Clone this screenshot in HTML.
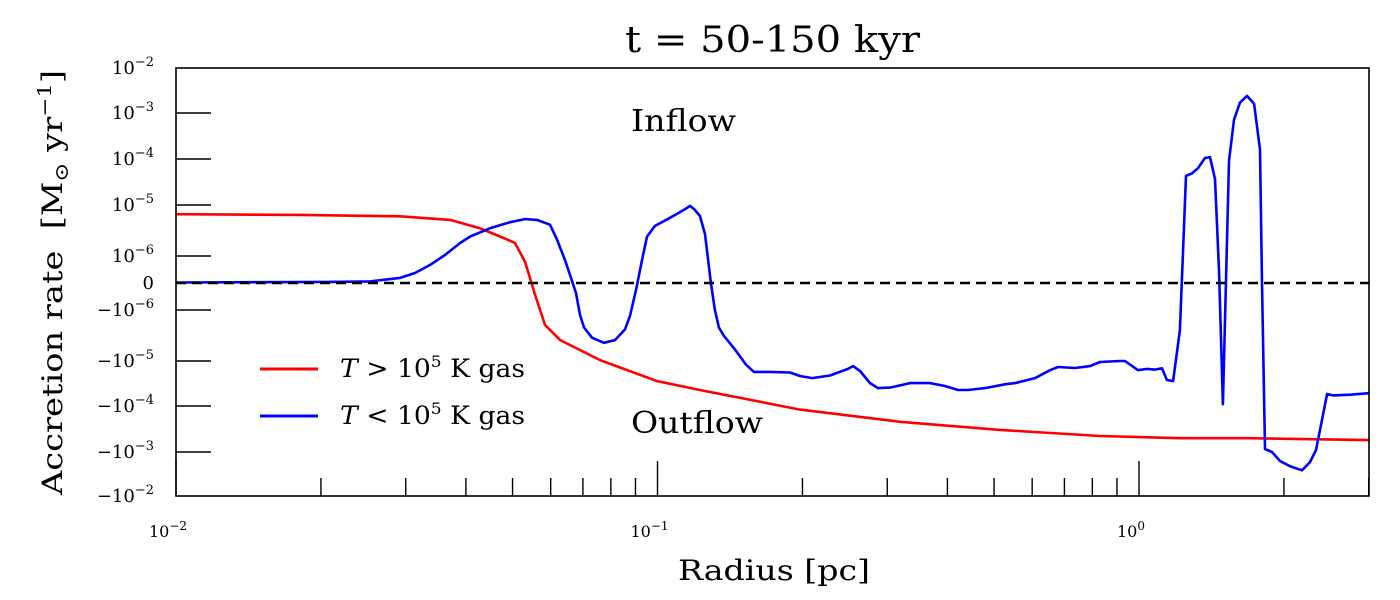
<!DOCTYPE html>
<html><head><meta charset="utf-8"><style>
body{margin:0;background:#fff}
svg{display:block}
text{font-family:"DejaVu Serif","Liberation Serif",serif;fill:#000}
</style></head><body>
<svg id="chart" width="1400" height="600" viewBox="0 0 1400 600" xmlns="http://www.w3.org/2000/svg">
<text x="625" y="52" font-size="36" textLength="295" lengthAdjust="spacingAndGlyphs">t = 50-150 kyr</text>
<g id="plot"></g>
<text x="678" y="580" font-size="28" textLength="192" lengthAdjust="spacingAndGlyphs">Radius [pc]</text>
<text transform="translate(62,495) rotate(-90)" font-size="28" textLength="425" lengthAdjust="spacingAndGlyphs" xml:space="preserve">Accretion rate  [M<tspan font-size="19" dy="6">⊙</tspan><tspan dy="-6"> yr</tspan><tspan font-size="19" dy="-11">−1</tspan><tspan dy="11">]</tspan></text>
<text x="631" y="131" font-size="30" textLength="105" lengthAdjust="spacingAndGlyphs">Inflow</text>
<text x="631" y="433" font-size="30" textLength="132" lengthAdjust="spacingAndGlyphs">Outflow</text>
<line x1="260" y1="369" x2="318" y2="369" stroke="#ff0000" stroke-width="3"/>
<text x="340" y="377" font-size="25" textLength="185" lengthAdjust="spacingAndGlyphs"><tspan font-style="italic">T</tspan> &gt; 10<tspan font-size="16" dy="-10">5</tspan><tspan dy="10"> K gas</tspan></text>
<line x1="260" y1="416" x2="318" y2="416" stroke="#0000ff" stroke-width="3"/>
<text x="340" y="424" font-size="25" textLength="185" lengthAdjust="spacingAndGlyphs"><tspan font-style="italic">T</tspan> &lt; 10<tspan font-size="16" dy="-10">5</tspan><tspan dy="10"> K gas</tspan></text>
</svg>
<script>
const radiusHot=[0.01,0.0181,0.0292,0.0371,0.0428,0.0482,0.0506,0.0531,0.0557,0.0584,0.0628,0.0760,0.0998,0.1225,0.1977,0.3189,0.5144,0.8299,1.216,1.700,3.0];
const rateHot=[6.6e-6,6.4e-6,6.0e-6,5.1e-6,3.5e-6,2.2e-6,1.8e-6,0.78e-6,-0.44e-6,-1.96e-6,-3.9e-6,-9.6e-6,-2.8e-5,-4.4e-5,-1.2e-4,-2.2e-4,-3.3e-4,-4.5e-4,-5e-4,-5e-4,-5.5e-4];
const radiusCold=[0.01,0.02088,0.02529,0.02919,0.03136,0.03370,0.03621,0.03890,0.04080,0.04487,0.04939,0.05305,0.05618,0.05980,0.06184,0.06425,0.06580,0.06772,0.06902,0.07037,0.07311,0.07742,0.08159,0.08559,0.08767,0.09021,0.09284,0.09509,0.0988,0.1062,0.1141,0.1168,0.1191,0.1225,0.1255,0.1291,0.1316,0.1341,0.1374,0.1449,0.1527,0.1586,0.1712,0.1884,0.1977,0.2094,0.2282,0.2487,0.2547,0.2634,0.2763,0.2870,0.3041,0.3345,0.3680,0.3955,0.4208,0.4415,0.4788,0.5268,0.5527,0.6081,0.6535,0.6789,0.7365,0.7913,0.8299,0.9132,0.9352,0.9952,1.039,1.079,1.116,1.143,1.177,1.216,1.252,1.289,1.326,1.371,1.404,1.438,1.466,1.494,1.538,1.575,1.621,1.676,1.734,1.784,1.801,1.827,1.889,1.963,2.059,2.180,2.265,2.331,2.458,2.529,2.743,3.004];
const rateCold=[0.02e-6,0.04e-6,0.06e-6,0.19e-6,0.37e-6,0.67e-6,1.05e-6,1.8e-6,2.4e-6,3.5e-6,4.6e-6,5.3e-6,5.1e-6,4.1e-6,2.1e-6,0.85e-6,0.3e-6,-0.37e-6,-1.25e-6,-2.2e-6,-3.5e-6,-4.4e-6,-3.9e-6,-2.4e-6,-1.3e-6,-0.26e-6,0.85e-6,2.4e-6,3.9e-6,5.6e-6,8.3e-6,9.6e-6,8.3e-6,6.1e-6,2.7e-6,0,-1e-6,-2.2e-6,-3.2e-6,-6e-6,-1.2e-5,-1.75e-5,-1.75e-5,-1.8e-5,-2.15e-5,-2.4e-5,-2.1e-5,-1.5e-5,-1.3e-5,-1.67e-5,-3.1e-5,-4e-5,-3.9e-5,-3.1e-5,-3.1e-5,-3.6e-5,-4.4e-5,-4.4e-5,-4e-5,-3.3e-5,-3.1e-5,-2.4e-5,-1.6e-5,-1.36e-5,-1.43e-5,-1.3e-5,-1.05e-5,-1e-5,-1e-5,-1.6e-5,-1.5e-5,-1.55e-5,-1.45e-5,-2.65e-5,-2.8e-5,-2.5e-6,4.3e-5,4.9e-5,6.3e-5,1.05e-4,1.1e-4,3.7e-5,0.48e-6,-9.1e-5,9.1e-5,7.1e-4,1.7e-3,2.4e-3,1.6e-3,1.6e-4,0,-8.6e-4,-1e-3,-1.6e-3,-2.1e-3,-2.6e-3,-1.7e-3,-9.1e-4,-5.4e-5,-5.8e-5,-5.6e-5,-5.2e-5];
const xTickValues=[0.01,0.1,1];
const xTickLabels=["−2","−1","0"];
const yTickValues=[1e-2,1e-3,1e-4,1e-5,1e-6,0,-1e-6,-1e-5,-1e-4,-1e-3,-1e-2];

const NS="http://www.w3.org/2000/svg";
const L=176,R=1369,T=68,B=496;
function xs(v){return L+(Math.log10(v)+2)*481.5;}
const posA=[[-2,68],[-3,113],[-4,159],[-5,205],[-6,256]];
const negA=[[-6,310],[-5,361],[-4,406],[-3,452],[-2,496]];
function ys(v){
  const a=Math.abs(v);
  if(a<1e-6){return 283-(v/1e-6)*27;}
  const lg=Math.log10(a);
  const arr=v>0?posA:negA;
  for(let i=0;i<arr.length-1;i++){
    const [l0,p0]=arr[i],[l1,p1]=arr[i+1];
    const lo=Math.min(l0,l1),hi=Math.max(l0,l1);
    if(lg>=lo&&lg<=hi){return p0+(lg-l0)/(l1-l0)*(p1-p0);}
  }
  return v>0?(lg>-2?68-(lg+2)*45:256):(lg>-2?496+(lg+2)*44:310);
}
const g=document.getElementById('plot');
function mk(tag,attrs){const e=document.createElementNS(NS,tag);for(const k in attrs)e.setAttribute(k,attrs[k]);g.appendChild(e);return e;}
function series(xa,va,color,name){
  const n=Math.min(xa.length,va.length);
  let d='';
  for(let i=0;i<n;i++){d+=(i?'L':'M')+xs(xa[i]).toFixed(1)+','+ys(va[i]).toFixed(1);}
  const p=mk('path',{d:d,fill:'none',stroke:color,'stroke-width':2.6,'stroke-linejoin':'round'});
  
  
}
series(radiusHot,rateHot,'#ff0000','hot-gas-line');
series(radiusCold,rateCold,'#0000ff','cold-gas-line');
let z=mk('line',{x1:L,x2:R,y1:ys(0),y2:ys(0),stroke:'#000','stroke-width':2.5,'stroke-dasharray':'10,6'});


const fr=mk('rect',{x:L,y:T,width:R-L,height:B-T,fill:'none',stroke:'#000','stroke-width':1.6});


const yLabels=["10|−2","10|−3","10|−4","10|−5","10|−6","0","−10|−6","−10|−5","−10|−4","−10|−3","−10|−2"];
yTickValues.forEach((v,i)=>{
  const y=ys(v);
  if(i>0&&i<yTickValues.length-1&&v!==0){
    const t=mk('line',{x1:L,x2:L+35,y1:y,y2:y,stroke:'#000','stroke-width':1.5});
    
    
  }
  const parts=yLabels[i].split('|');
  const tx=mk('text',{x:154,y:y+6,'font-size':18,'text-anchor':'end'});
  
  
  if(parts.length===1){tx.textContent=parts[0];}
  else{
    tx.textContent=parts[0];
    const s=document.createElementNS(NS,'tspan');
    s.setAttribute('font-size','13');s.setAttribute('dy','-8');s.textContent=parts[1];tx.appendChild(s);
  }
});
for(let d=-2;d<=0;d++){
  for(let m=1;m<10;m++){
    const v=m*Math.pow(10,d);
    if(v>3.001)break;
    const x=xs(v);
    const len=m===1?35:18;
    const t=mk('line',{x1:x,x2:x,y1:B,y2:B-len,stroke:'#000','stroke-width':1.4});
    
    
  }
}
xTickValues.forEach((v,i)=>{
  const tx=mk('text',{x:xs(v)-8,y:537,'font-size':16,'text-anchor':'middle'});
  
  
  tx.textContent='10';
  const s=document.createElementNS(NS,'tspan');
  s.setAttribute('font-size','12');s.setAttribute('dy','-7');s.textContent=xTickLabels[i];tx.appendChild(s);
});
</script>
</body></html>
